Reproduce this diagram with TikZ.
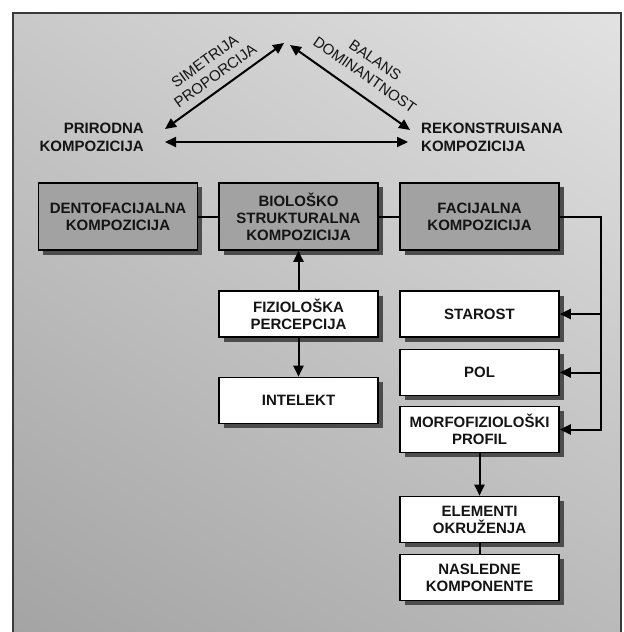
\documentclass[tikz,border=0pt]{standalone}
\usepackage{fontspec}
\setmainfont{Liberation Sans}
\usetikzlibrary{arrows.meta,shadows,shadings}
\definecolor{bgUL}{HTML}{C9C9C9}
\definecolor{bgUR}{HTML}{E2E2E2}
\definecolor{bgLL}{HTML}{A4A4A4}
\definecolor{bgLR}{HTML}{BABABA}
\definecolor{boxgray}{HTML}{A2A2A2}
\definecolor{framecol}{HTML}{3A3A3A}
\definecolor{shadowcol}{HTML}{4C4C4C}
\begin{document}
\begin{tikzpicture}[x=1bp,y=-1bp,
  tip/.tip={Triangle[length=11bp,width=10bp]},
  conn/.style={line width=2bp,draw=black,line join=miter},
  basebox/.style={draw=black,line width=1.6bp,minimum width=159bp,inner sep=0pt,
    align=center,text=black!92,
    font=\bfseries\fontsize{15bp}{17bp}\selectfont,
    drop shadow={shadow xshift=4.5bp,shadow yshift=-4.5bp,fill=shadowcol,opacity=1}},
  graybox/.style={basebox,fill=boxgray,minimum height=67bp},
  whitebox/.style={basebox,fill=white,minimum height=46bp},
  toplabel/.style={inner sep=0pt,font=\bfseries\fontsize{15bp}{18bp}\selectfont,text=black!92},
  slabel/.style={inner sep=0pt,align=center,font=\fontsize{15bp}{18bp}\selectfont,text=black!92}
]
\useasboundingbox (0,0) rectangle (624,632);
\fill[white] (0,0) rectangle (624,632);
\shade[upper left=bgUL,upper right=bgUR,lower left=bgLL,lower right=bgLR] (13,13) rectangle (621,632);
\draw[framecol,line width=1.5bp] (13,632) -- (13,13) -- (621,13) -- (621,632);

% top triangle
\node[toplabel,anchor=east,align=right] (prir) at (144,137) {PRIRODNA\\KOMPOZICIJA};
\node[toplabel,anchor=west,align=left] (rek) at (421,137) {REKONSTRUISANA\\KOMPOZICIJA};
\coordinate (apL) at (284,43);
\coordinate (apR) at (290,45);
\coordinate (pL) at (165,129);
\coordinate (rR) at (410,130);
\coordinate (hL) at (165,142);
\coordinate (hR) at (408,142);
\draw[conn,tip-tip] (pL) -- (apL);
\draw[conn,tip-tip] (apR) -- (rR);
\draw[conn,tip-tip] (hL) -- (hR);
\node[slabel,rotate=36] (sim) at (210,68.5) {SIMETRIJA\\PROPORCIJA};
\node[slabel,rotate=-35] (bal) at (370,67.5) {BALANS\\DOMINANTNOST};

% boxes
\node[graybox] (dento) at (118,216.5) {DENTOFACIJALNA\\KOMPOZICIJA};
\node[graybox] (bio) at (298.5,216.5) {BIOLOŠKO\\STRUKTURALNA\\KOMPOZICIJA};
\node[graybox] (fac) at (479.5,216.5) {FACIJALNA\\KOMPOZICIJA};
\node[whitebox] (fiz) at (298.5,314) {FIZIOLOŠKA\\PERCEPCIJA};
\node[whitebox] (intel) at (298.5,400.5) {INTELEKT};
\node[whitebox] (star) at (479.5,314) {STAROST};
\node[whitebox] (pol) at (479.5,372.5) {POL};
\node[whitebox] (morfo) at (479.5,429.5) {MORFOFIZIOLOŠKI\\PROFIL};
\node[whitebox] (elem) at (479.5,519.5) {ELEMENTI\\OKRUŽENJA};
\node[whitebox] (nasl) at (479.5,577.5) {NASLEDNE\\KOMPONENTE};

% connectors
\coordinate (bus) at (601,216.5);
\draw[conn] (dento.east) -- (bio.west);
\draw[conn] (bio.east) -- (fac.west);
\draw[conn,-tip] (fac.east) -- (bus) -- (bus |- morfo.east) -- (morfo.east);
\draw[conn,-tip] (bus |- star.east) -- (star.east);
\draw[conn,-tip] (bus |- pol.east) -- (pol.east);
\draw[conn,-tip] (fiz.north) -- (bio.south);
\draw[conn,-tip] (fiz.south) -- (intel.north);
\draw[conn,-tip] (morfo.south) -- (elem.north);
\draw[conn] (elem.south) -- (nasl.north);
\end{tikzpicture}
\end{document}
